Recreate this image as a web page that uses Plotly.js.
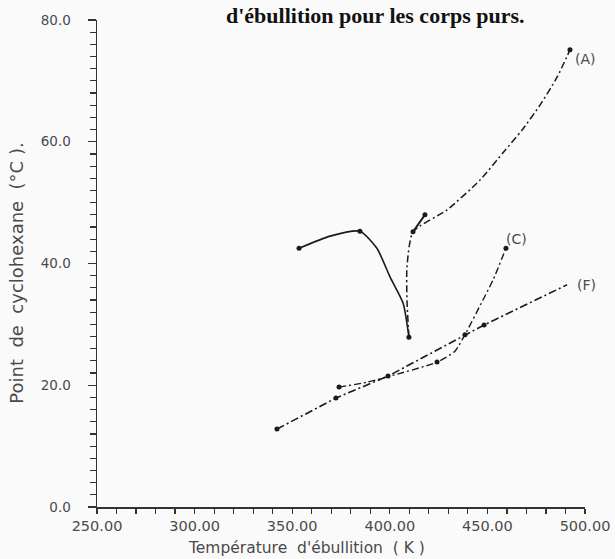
<!DOCTYPE html>
<html><head><meta charset="utf-8">
<script src="https://cdn.plot.ly/plotly-3.0.1.min.js"></script>
<style>html,body{margin:0;padding:0;background:#fafafa;}</style>
</head><body>
<div id="chart" style="width:615px;height:559px;"></div>
<script>
// Curve A (left arc, V, rising branch to (A))
const arcA_x = [353.5, 369.4, 384.7, 393.4, 400.1, 406.8, 409.8];
const arcA_y = [42.5, 44.5, 45.3, 42.5, 37.8, 33.5, 27.9];
const riseA_x = [409.8, 408.8, 408.8, 411.9, 429.3, 446.2, 458.0, 467.7, 476.9, 485.7, 492.3];
const riseA_y = [27.9, 34.0, 39.4, 45.2, 48.8, 53.7, 58.2, 61.9, 66.0, 70.6, 75.1];
const spurA_x = [411.9, 418.0];
const spurA_y = [45.2, 48.0];
const ptsA_x = [353.5, 384.7, 409.8, 411.9, 418.0, 492.3];
const ptsA_y = [42.5, 45.3, 27.9, 45.2, 48.0, 75.1];
// Curve C
const curveC_x = [374.0, 388.3, 400.1, 424.2, 433.4, 438.5, 447.7, 452.9, 459.5];
const curveC_y = [19.7, 20.5, 21.5, 23.8, 25.6, 28.3, 34.0, 37.3, 42.5];
const ptsC_x = [374.0, 424.2, 438.5, 459.5];
const ptsC_y = [19.7, 23.8, 28.3, 42.5];
// Line F
const lineF_x = [342.2, 372.4, 399.1, 438.5, 448.3, 490.8];
const lineF_y = [12.8, 17.9, 21.5, 28.3, 29.9, 36.5];
const ptsF_x = [342.2, 372.4, 399.1, 448.3];
const ptsF_y = [12.8, 17.9, 21.5, 29.9];
// Axis ticks
const xTicks = [250, 300, 350, 400, 450, 500];
const xTickText = ['250.00', '300.00', '350.00', '400.00', '450.00', '500.00'];
const yTicks = [0, 20, 40, 60, 80];
const yTickText = ['0.0', '20.0', '40.0', '60.0', '80.0'];
const seriesLabels = ['(A)', '(C)', '(F)'];

const ink = '#1a1a1a';
function line(x, y, dash, w) {
  return {x, y, mode: 'lines', type: 'scatter', hoverinfo: 'skip',
    line: {color: ink, width: w || 1.6, dash: dash, shape: 'spline', smoothing: 0.6}};
}
function pts(x, y) {
  return {x, y, mode: 'markers', type: 'scatter', hoverinfo: 'skip',
    marker: {color: ink, size: 5, symbol: 'circle'}};
}
const traces = [
  line(arcA_x, arcA_y, 'solid', 1.6),
  line(riseA_x, riseA_y, '7px,3px,2px,3px', 1.5),
  line(spurA_x, spurA_y, 'solid', 2),
  line(curveC_x, curveC_y, '7px,3px,2px,3px', 1.4),
  {x: lineF_x, y: lineF_y, mode: 'lines', type: 'scatter', hoverinfo: 'skip',
    line: {color: ink, width: 1.6, dash: '8px,3px,2px,3px'}},
  pts(ptsA_x, ptsA_y), pts(ptsC_x, ptsC_y), pts(ptsF_x, ptsF_y)
];

const gray = '#4a4a4a';
const layout = {
  width: 615, height: 559,
  margin: {l: 97, r: 30, t: 20, b: 52},
  paper_bgcolor: '#fafafa', plot_bgcolor: '#fafafa',
  showlegend: false,
  font: {family: 'DejaVu Sans', color: gray, size: 12},
  xaxis: {
    range: [250, 500], showgrid: false, zeroline: false,
    showline: true, linecolor: '#333', linewidth: 1.5,
    tickmode: 'array', tickvals: xTicks, ticktext: xTickText,
    ticks: 'outside', ticklen: 5, tickcolor: '#333', tickwidth: 1.2,
    minor: {dtick: 10, ticks: 'outside', ticklen: 5, tickcolor: '#333'},
    tickfont: {size: 14.5, color: gray, family: 'DejaVu Sans'}
  },
  yaxis: {
    range: [0, 80], showgrid: false, zeroline: false,
    showline: true, linecolor: '#333', linewidth: 1.5,
    tickmode: 'array', tickvals: yTicks, ticktext: yTickText,
    ticks: 'outside', ticklen: 8, tickcolor: '#333', tickwidth: 1.2,
    minor: {dtick: 2, ticks: 'outside', ticklen: 6, tickcolor: '#333'},
    tickfont: {size: 13.5, color: gray, family: 'DejaVu Sans'},
    ticklabelstandoff: 14
  },
  annotations: [
    {text: "d'ébullition pour les corps purs.", xref: 'paper', yref: 'paper',
     x: 0.57, y: 1.040, xanchor: 'center', yanchor: 'top', showarrow: false,
     font: {family: 'Liberation Serif', size: 22, color: '#111', weight: 'bold'}},
    {text: "Température  d'ébullition  ( K )", xref: 'paper', yref: 'paper',
     x: 0.43, y: -0.062, xanchor: 'center', yanchor: 'top', showarrow: false,
     font: {family: 'DejaVu Sans', size: 15.5, color: gray}},
    {text: 'Point  de  cyclohexane  (°C ).', xref: 'paper', yref: 'paper',
     x: -0.165, y: 0.48, xanchor: 'center', yanchor: 'middle', showarrow: false,
     textangle: -90, font: {family: 'DejaVu Sans', size: 18, color: gray}},
    {text: seriesLabels[0], xref: 'paper', yref: 'paper', x: 1.027, y: 0.94,
     showarrow: false, font: {size: 14, color: gray}},
    {text: seriesLabels[1], xref: 'paper', yref: 'paper', x: 0.885, y: 0.55,
     showarrow: false, font: {size: 14, color: gray}},
    {text: seriesLabels[2], xref: 'paper', yref: 'paper', x: 1.027, y: 0.455,
     showarrow: false, font: {size: 14, color: gray}}
  ]
};
Plotly.newPlot('chart', traces, layout, {staticPlot: true, displayModeBar: false});
</script>
</body></html>
